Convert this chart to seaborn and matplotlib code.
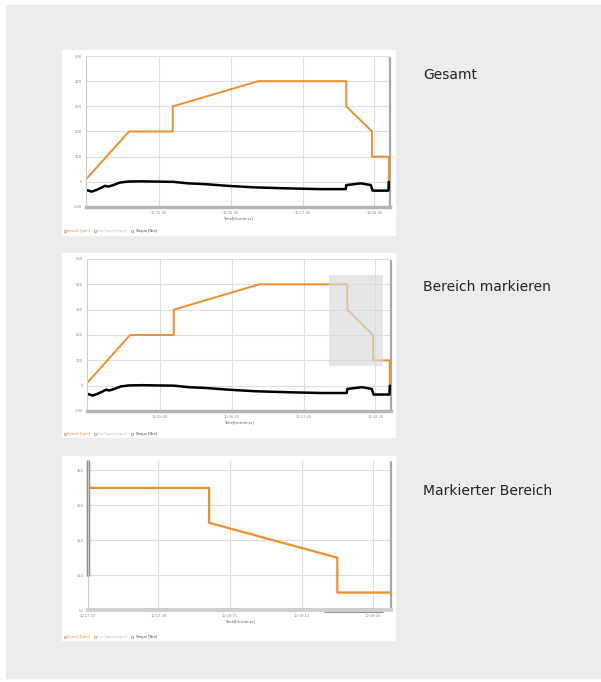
import matplotlib
matplotlib.use("Agg")
import matplotlib.pyplot as plt
from matplotlib.lines import Line2D
from matplotlib.patches import Rectangle
import numpy as np
import pandas as pd
import seaborn as sns


# speed trace [rpm], time in seconds from start
speed_t = [0, 36, 72.5, 72.5, 144, 217.5, 217.5, 239, 239, 253, 253]
speed_v = [10, 200, 200, 300, 400, 400, 300, 200, 100, 100, 0]

# torque trace [Nm]
torque_t = [0, 4.7, 8.9, 13, 15.8, 18.6, 22.8, 28.3, 35, 46, 57.5, 72.8, 85, 99,
            118.6, 140.8, 168.6, 196, 217, 217.5, 229.7, 238, 239.4, 252.7, 253]
torque_v = [-32, -39, -32, -23, -16, -19, -13, -3, 1, 2, 1, 0, -6, -9,
            -16, -22, -26, -29, -29, -13, -6, -13, -35, -35, 0]

# overview axis
full_xlim = [0, 254]
full_ylim = [-100, 500]
full_yticks = [-100, 0, 100, 200, 300, 400, 500]
full_xticks = [61, 121, 181, 241]
full_xlabels = ["10:15:20", "10:16:20", "10:17:20", "10:18:20"]

# marked region (time span, speed span)
sel_x = [202, 247.5]
sel_y = [77, 437]

# zoomed axis
zoom_xlim = [197.2, 248]
zoom_ylim = [50, 480]
zoom_yticks = [50, 150, 250, 350, 450]
zoom_xticks = [197.2, 209, 221, 233, 245]
zoom_xlabels = ["10:17:37", "10:17:49", "10:18:01", "10:18:13", "10:18:25"]

captions = ["Gesamt", "Bereich markieren", "Markierter Bereich"]
legend_labels = ["Speed [rpm]", "Set Speed [rpm]", "Torque [Nm]"]

ORANGE = "#ee8f2d"
GRID = "#dedede"
TICKC = "#888888"

sns.set_style("white")
plt.rcParams["font.family"] = ["DejaVu Sans"]

fig = plt.figure(figsize=(6.01, 6.82), dpi=100)
W, H = 601, 682


def fig_rect(x0, y0, x1, y1, color):
    fig.patches.append(Rectangle((x0 / W, 1 - y1 / H), (x1 - x0) / W, (y1 - y0) / H,
                                 transform=fig.transFigure, color=color, zorder=-10))


def add_axes(left, right, top, bottom):
    return fig.add_axes([left / W, 1 - bottom / H, (right - left) / W, (bottom - top) / H])


fig_rect(6, 5, 601, 678, "#ececec")
fig_rect(62, 50, 395, 235, "white")
fig_rect(62, 253, 395, 437, "white")
fig_rect(62, 456, 395, 640, "white")

df_speed = pd.DataFrame({"t": speed_t, "v": speed_v})
df_torque = pd.DataFrame({"t": torque_t, "v": torque_v})


def style_axes(ax, xlim, ylim, xticks, xlabels, yticks):
    ax.set_xlim(xlim)
    ax.set_ylim(ylim)
    ax.set_xticks(xticks)
    ax.set_xticklabels(xlabels)
    ax.set_yticks(yticks)
    ax.set_yticklabels([str(v) for v in yticks])
    ax.grid(True, color=GRID, linewidth=0.8)
    ax.set_axisbelow(True)
    ax.tick_params(axis="both", labelsize=2.6, colors=TICKC, length=2, width=0.5, pad=1)
    for s in ["top", "right"]:
        ax.spines[s].set_visible(False)
    ax.spines["left"].set_color("#cccccc")
    ax.spines["left"].set_linewidth(0.8)
    ax.spines["bottom"].set_color("#b5b5b5")
    ax.spines["bottom"].set_linewidth(2.5)
    ax.set_xlabel("Time[hh:mm:ss]", fontsize=2.6, color="#555555", labelpad=1)
    ax.set_ylabel("")
    # scrollbar on the right
    ax.plot([1.0, 1.0], [0.0, 0.99], transform=ax.transAxes, color="#a8a8a8",
            linewidth=1.6, clip_on=False, zorder=1)


def add_legend(ax, ypix):
    handles = [Line2D([], [], marker="s", linestyle="", markersize=2,
                      markerfacecolor="white", markeredgecolor="#999999", markeredgewidth=0.5)
               for _ in legend_labels]
    leg = fig.legend(handles, legend_labels, loc="center left",
                     bbox_to_anchor=(62 / W, 1 - ypix / H), ncol=3, fontsize=2.6,
                     frameon=False, handlelength=0.6, handletextpad=0.4, columnspacing=1.0,
                     labelcolor=[ORANGE, "#bbbbbb", "#444444"], borderaxespad=0)
    return leg


# overview chart
ax1 = add_axes(86, 390, 56, 207)
sns.lineplot(data=df_speed, x="t", y="v", ax=ax1, color=ORANGE, linewidth=1.4,
             estimator=None, sort=False)
sns.lineplot(data=df_torque, x="t", y="v", ax=ax1, color="black", linewidth=1.8,
             estimator=None, sort=False)
style_axes(ax1, full_xlim, full_ylim, full_xticks, full_xlabels, full_yticks)
add_legend(ax1, 231)

# chart with marked region
ax2 = add_axes(87, 391, 259, 411)
sns.lineplot(data=df_speed, x="t", y="v", ax=ax2, color=ORANGE, linewidth=1.4,
             estimator=None, sort=False)
sns.lineplot(data=df_torque, x="t", y="v", ax=ax2, color="black", linewidth=1.8,
             estimator=None, sort=False)
ax2.fill_between(sel_x, sel_y[0], sel_y[1], color="#d9d9d9", alpha=0.65,
                 linewidth=0, zorder=5)
style_axes(ax2, full_xlim, full_ylim, full_xticks, full_xlabels, full_yticks)
add_legend(ax2, 434)

# zoomed chart
ax3 = add_axes(88, 391, 460, 610)
sns.lineplot(data=df_speed, x="t", y="v", ax=ax3, color=ORANGE, linewidth=1.6,
             estimator=None, sort=False)
sns.lineplot(data=df_torque, x="t", y="v", ax=ax3, color="black", linewidth=1.8,
             estimator=None, sort=False)
style_axes(ax3, zoom_xlim, zoom_ylim, zoom_xticks, zoom_xlabels, zoom_yticks)
ax3.spines["bottom"].set_color("#cfcfcf")
ax3.spines["bottom"].set_linewidth(3)
# scrollbars of the zoomed view
ax3.plot([0.0, 0.0], [0.23, 1.0], transform=ax3.transAxes, color="#8a8a8a",
         linewidth=2.5, clip_on=False, solid_capstyle="butt")
ax3.plot([0.78, 0.975], [-0.004, -0.004], transform=ax3.transAxes, color="#8a8a8a",
         linewidth=2.2, clip_on=False, solid_capstyle="butt")
add_legend(ax3, 637)

for i, yp in enumerate([75, 287, 491]):
    fig.text(423 / W, 1 - yp / H, captions[i], fontsize=10, color="#222222",
             va="center", ha="left")

fig.savefig("out.png", dpi=100)
